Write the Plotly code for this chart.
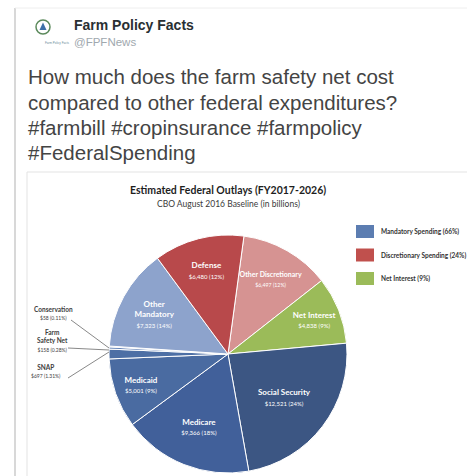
import plotly.graph_objects as go

W, H = 467, 476

# ---- data ----
categories = ["Other Discretionary", "Net Interest", "Social Security", "Medicare",
              "Medicaid", "SNAP", "Farm Safety Net", "Conservation",
              "Other Mandatory", "Defense"]
values = [6497, 4838, 12521, 9366, 5001, 697, 158, 58, 7323, 6480]
pct_labels = ["12%", "9%", "24%", "18%", "9%", "1.31%", "0.28%", "0.11%", "14%", "12%"]
display_names = ["Other Discretionary", "Net Interest", "Social Security", "Medicare",
                 "Medicaid", "SNAP", "Farm<br>Safety Net", "Conservation",
                 "Other<br>Mandatory", "Defense"]
legend_labels = ["Mandatory Spending (66%)", "Discretionary Spending (24%)", "Net Interest (9%)"]
tweet_lines = ["How much does the farm safety net cost",
               "compared to other federal expenditures?",
               "#farmbill #cropinsurance #farmpolicy",
               "#FederalSpending"]

colors = ["#D69392", "#9BBB59", "#3C5683", "#41609A", "#4A6BA1", "#4D6FA5",
          "#6484B8", "#7C99C8", "#8DA3CC", "#B8494B"]
legend_colors = ["#5C7DB1", "#C0504D", "#9BBB59"]
small = {"SNAP", "Farm Safety Net", "Conservation"}


def px(x):
    return x / W


def py(y):
    return 1 - y / H


value_text = ["$" + f"{v:,}" + " (" + p + ")" for v, p in zip(values, pct_labels)]
texts = ["<b>" + n + "</b><br><span style='font-size:6px'>" + t + "</span>"
         for n, t in zip(display_names, value_text)]
textpos = ["none" if c in small else "inside" for c in categories]

fig = go.Figure()
fig.add_trace(go.Pie(
    labels=categories, values=values, sort=False, direction="clockwise",
    rotation=7.7, marker=dict(colors=colors, line=dict(color="white", width=1)),
    text=texts, texttemplate="%{text}", textposition=textpos,
    insidetextorientation="horizontal",
    insidetextfont=dict(family="Lato", color="white", size=8),
    showlegend=False, hoverinfo="label+value",
    domain=dict(x=[px(109), px(347)], y=[py(473), py(235)]),
))

ann = []
shapes = []

# tweet card border
shapes.append(dict(type="line", xref="paper", yref="paper", x0=px(15), x1=px(15),
                   y0=py(8), y1=0, line=dict(color="#d8d8d8", width=2)))
shapes.append(dict(type="line", xref="paper", yref="paper", x0=px(15), x1=1,
                   y0=py(8), y1=py(8), line=dict(color="#eeeeee", width=1)))
# chart card border
shapes.append(dict(type="rect", xref="paper", yref="paper", x0=px(27), x1=px(470),
                   y0=py(480), y1=py(172), line=dict(color="#e3e3e3", width=1)))

# logo
shapes.append(dict(type="circle", xref="paper", yref="paper", x0=px(36), x1=px(50),
                   y0=py(34), y1=py(20), line=dict(color="#5c8a5c", width=1.5)))
shapes.append(dict(type="path", xref="paper", yref="paper",
                   path=f"M {px(43)} {py(22.5)} L {px(39.5)} {py(30)} L {px(46.5)} {py(30)} Z",
                   fillcolor="#3d6fa8", line=dict(width=0)))
ann.append(dict(x=px(43), y=py(39), xref="paper", yref="paper", text="Farm Policy Facts",
                showarrow=False, font=dict(family="Liberation Sans", size=3, color="#6a8a9a")))

# header
ann.append(dict(x=px(72), y=py(25), xref="paper", yref="paper", xanchor="left",
                yanchor="middle", text="<b>Farm Policy Facts</b>", showarrow=False,
                font=dict(family="Liberation Sans", size=14, color="#292f33")))
ann.append(dict(x=px(72), y=py(42), xref="paper", yref="paper", xanchor="left",
                yanchor="middle", text="@FPFNews", showarrow=False,
                font=dict(family="Liberation Sans", size=11.5, color="#a0a8ae")))

for i, line in enumerate(tweet_lines):
    ann.append(dict(x=px(26), y=py(77 + 25.3 * i), xref="paper", yref="paper",
                    xanchor="left", yanchor="middle", text=line, showarrow=False,
                    font=dict(family="Liberation Sans", size=20.5, color="#444444")))

# chart title
ann.append(dict(x=px(228), y=py(190), xref="paper", yref="paper", xanchor="center",
                yanchor="middle", text="<b>Estimated Federal Outlays (FY2017-2026)</b>",
                showarrow=False, font=dict(family="Lato", size=10.5, color="#1e1e1e")))
ann.append(dict(x=px(228), y=py(203.5), xref="paper", yref="paper", xanchor="center",
                yanchor="middle", text="CBO August 2016 Baseline (in billions)",
                showarrow=False, font=dict(family="Lato", size=8.5, color="#3a3a3a")))

# legend
for i, (lab, col) in enumerate(zip(legend_labels, legend_colors)):
    yc = 231.5 + 23.5 * i
    shapes.append(dict(type="rect", xref="paper", yref="paper", x0=px(356), x1=px(374),
                       y0=py(yc + 6.5), y1=py(yc - 6.5), fillcolor=col,
                       line=dict(color=col, width=0)))
    ann.append(dict(x=px(379), y=py(yc), xref="paper", yref="paper", xanchor="left",
                    yanchor="middle", text="<b>" + lab + "</b>", showarrow=False,
                    font=dict(family="Lato", size=6.5, color="#333333")))

# outside labels for small slices
out_pos = {"Conservation": (53, 313, 71, 320, 109, 348),
           "Farm Safety Net": (52, 341, 68, 348, 109, 350),
           "SNAP": (46, 371, 68, 378, 109, 352)}
for c, n, t in zip(categories, display_names, value_text):
    if c in out_pos:
        lx, ly, sx, sy, ex, ey = out_pos[c]
        ann.append(dict(x=px(lx), y=py(ly), xref="paper", yref="paper", xanchor="center",
                        yanchor="middle",
                        text="<b>" + n + "</b><br><span style='font-size:5px'>" + t + "</span>",
                        showarrow=False,
                        font=dict(family="Lato", size=6.5, color="#404040")))
        shapes.append(dict(type="line", xref="paper", yref="paper", x0=px(sx), y0=py(sy),
                           x1=px(ex), y1=py(ey), line=dict(color="#6a6a6a", width=0.8)))

fig.update_layout(width=W, height=H, margin=dict(l=0, r=0, t=0, b=0),
                  paper_bgcolor="white", plot_bgcolor="white",
                  annotations=ann, shapes=shapes)

fig.write_html("out.html")
